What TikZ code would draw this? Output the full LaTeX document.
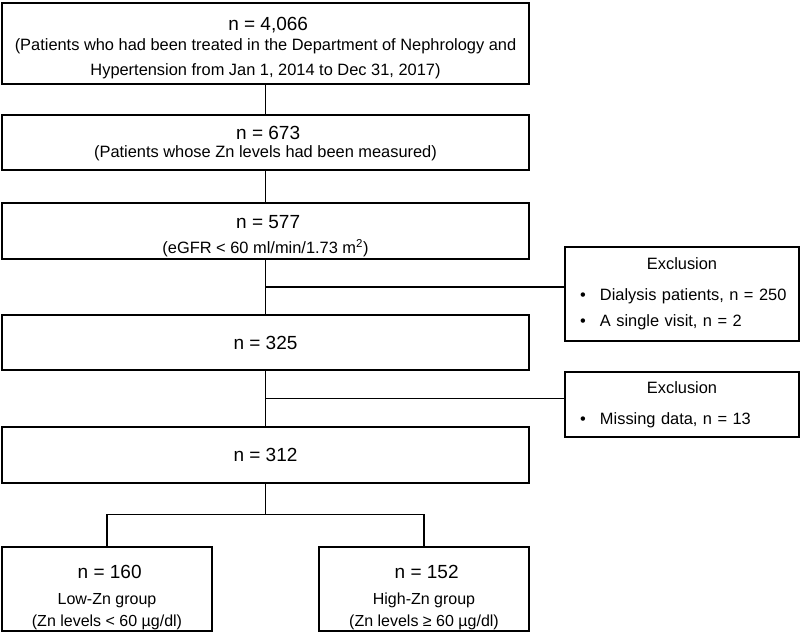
\documentclass[tikz,border=0pt]{standalone}
\usepackage{fontspec}
\setmainfont{Liberation Sans}
\usetikzlibrary{calc}
\newcommand\sizeN{\fontsize{19}{22}\selectfont}
\newcommand\sizeD{\fontsize{16.4}{20}\selectfont}
\newcommand\sizeE{\fontsize{16.4}{26}\selectfont}
\newcommand\sizeG{\fontsize{16}{20}\selectfont}
% lifts the first line of a box to push its text down
\newcommand\topgap[1]{\rule{0pt}{#1pt}}
\newcommand\bul{\hspace*{5pt}\makebox[20pt][l]{\textbullet}}
\tikzset{
    box/.style={draw, line width=1.2pt, inner sep=0pt, minimum width=527pt, align=center, font=\sizeD},
    exbox/.style={draw, line width=1.2pt, inner sep=0pt, minimum width=234pt, text width=214pt, align=left, font=\sizeE},
    grpbox/.style={draw, line width=1.2pt, inner sep=0pt, minimum width=210pt, minimum height=84pt, align=center, font=\sizeG},
    link/.style={line width=1.2pt},
}

\begin{document}
\begin{tikzpicture}[x=1pt,y=-1pt]
\useasboundingbox (0,0) rectangle (800,633);
% main column
\node[box,minimum height=81pt] (total) at (265.5,43.5) {\sizeN\topgap{23} n = 4,066\\[0pt](Patients who had been treated in the Department of Nephrology and\\[5pt]Hypertension from Jan 1, 2014 to Dec 31, 2017)};
\node[box,minimum height=55pt] (zn) at (265.5,142.5) {\sizeN\topgap{16} n = 673\\[-2pt](Patients whose Zn levels had been measured)};
\node[box,minimum height=56pt] (egfr) at (265.5,231) {\sizeN\topgap{24} n = 577\\[5pt](eGFR < 60 ml/min/1.73 m\textsuperscript{2})};
\node[box,minimum height=55pt] (dial) at (265.5,342.5) {\sizeN n = 325};
\node[box,minimum height=56pt] (final) at (265.5,455) {\sizeN n = 312};
% exclusions
\node[exbox,minimum height=94pt] (ex1) at (682,294) {{\centering Exclusion\par}\vspace{5pt}
    \bul Dialysis patients, n = 250\par
    \bul A single visit, n = 2\par};
\node[exbox,minimum height=65pt] (ex2) at (682,404.5) {{\centering Exclusion\par}\vspace{5pt}
    \bul Missing data, n = 13\par};
% groups
\node[grpbox] (low) at (107,589) {\sizeN\topgap{31} n = 160\\[6pt]Low-Zn group\\[2pt](Zn levels < 60 µg/dl)};
\node[grpbox] (high) at (424,589) {\sizeN\topgap{31} n = 152\\[6pt]High-Zn group\\[2pt](Zn levels ≥ 60 µg/dl)};

\draw[link] (total) -- (zn);
\draw[link] (zn) -- (egfr);
\draw[link] (egfr) -- (dial);
\draw[link] (dial) -- (final);
\coordinate (j1) at ($(egfr.south)!0.5!(dial.north)$);
\coordinate (j2) at ($(dial.south)!0.5!(final.north)$);
\draw[link] (j1) -- (j1 -| ex1.west);
\draw[link] (j2) -- (j2 -| ex2.west);
\coordinate (fork) at ($(final.south)+(0,31)$);
\draw[link] (final) -- (fork);
\draw[link] (low.north) |- (fork) -| (high.north);
\end{tikzpicture}
\end{document}
